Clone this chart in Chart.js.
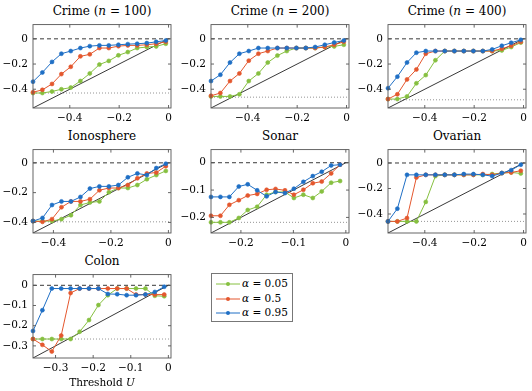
<!DOCTYPE html>
<html><head><meta charset="utf-8">
<script src="https://cdn.jsdelivr.net/npm/chart.js@4.4.1/dist/chart.umd.min.js"></script>
<style>
body{margin:0;background:#fff;width:532px;height:391px;position:relative;overflow:hidden;font-family:"DejaVu Serif",serif;font-weight:normal;color:#000;}
.cv{position:absolute;}
.title{position:absolute;font-size:12px;font-weight:normal;text-align:center;white-space:nowrap;height:16px;line-height:16px;}
#legend{position:absolute;left:211px;top:273px;width:80px;height:47px;border:1px solid #777;background:#fff;}
.lrow{position:absolute;left:4px;height:14px;line-height:14px;font-size:10.5px;white-space:nowrap;}
.lrow svg{vertical-align:middle;margin-right:2px;}
#xlabel{position:absolute;left:33px;width:138px;top:376px;text-align:center;font-size:10.5px;}
</style></head><body>
<script>
// ---- data ----
const xCrime = [-0.549,-0.511,-0.472,-0.434,-0.396,-0.357,-0.319,-0.280,-0.242,-0.203,-0.165,-0.127,-0.088,-0.050,-0.011];
const crime100Blue   = [-0.340,-0.267,-0.183,-0.118,-0.097,-0.073,-0.058,-0.052,-0.052,-0.047,-0.042,-0.039,-0.034,-0.024,-0.013];
const crime100Orange = [-0.424,-0.405,-0.358,-0.280,-0.222,-0.139,-0.123,-0.073,-0.073,-0.058,-0.052,-0.052,-0.047,-0.039,-0.024];
const crime100Green  = [-0.430,-0.430,-0.418,-0.400,-0.387,-0.335,-0.275,-0.204,-0.175,-0.131,-0.105,-0.073,-0.065,-0.060,-0.039];
const crime200Blue   = [-0.335,-0.285,-0.188,-0.118,-0.097,-0.073,-0.073,-0.073,-0.073,-0.073,-0.073,-0.065,-0.047,-0.029,-0.013];
const crime200Orange = [-0.452,-0.430,-0.335,-0.275,-0.173,-0.118,-0.097,-0.073,-0.073,-0.073,-0.073,-0.073,-0.065,-0.047,-0.024];
const crime200Green  = [-0.457,-0.457,-0.457,-0.440,-0.335,-0.275,-0.188,-0.133,-0.097,-0.073,-0.073,-0.073,-0.065,-0.060,-0.047];
const crime400Blue   = [-0.392,-0.300,-0.188,-0.110,-0.097,-0.097,-0.097,-0.097,-0.097,-0.097,-0.097,-0.084,-0.055,-0.031,-0.008];
const crime400Orange = [-0.478,-0.440,-0.322,-0.243,-0.118,-0.097,-0.097,-0.097,-0.097,-0.097,-0.097,-0.097,-0.078,-0.055,-0.024];
const crime400Green  = [-0.478,-0.478,-0.457,-0.353,-0.288,-0.170,-0.097,-0.097,-0.097,-0.097,-0.097,-0.097,-0.092,-0.065,-0.030];

const xIono = [-0.471,-0.438,-0.405,-0.372,-0.339,-0.306,-0.273,-0.240,-0.207,-0.174,-0.141,-0.108,-0.075,-0.042,-0.009];
const ionoBlue   = [-0.391,-0.370,-0.283,-0.259,-0.259,-0.229,-0.173,-0.158,-0.158,-0.149,-0.097,-0.071,-0.082,-0.035,-0.006];
const ionoOrange = [-0.391,-0.396,-0.378,-0.298,-0.259,-0.259,-0.244,-0.184,-0.169,-0.169,-0.149,-0.104,-0.071,-0.065,-0.022];
const ionoGreen  = [-0.391,-0.391,-0.391,-0.378,-0.352,-0.283,-0.266,-0.259,-0.197,-0.169,-0.169,-0.149,-0.110,-0.082,-0.054];

const xSonar = [-0.257,-0.239,-0.222,-0.204,-0.187,-0.169,-0.151,-0.134,-0.116,-0.099,-0.081,-0.063,-0.046,-0.028,-0.011];
const sonarBlue   = [-0.125,-0.125,-0.125,-0.087,-0.079,-0.101,-0.123,-0.107,-0.111,-0.095,-0.070,-0.049,-0.033,-0.010,-0.007];
const sonarOrange = [-0.194,-0.194,-0.154,-0.137,-0.120,-0.114,-0.099,-0.096,-0.101,-0.117,-0.099,-0.075,-0.069,-0.039,-0.007];
const sonarGreen  = [-0.218,-0.218,-0.218,-0.202,-0.173,-0.161,-0.117,-0.107,-0.107,-0.129,-0.117,-0.129,-0.105,-0.073,-0.067];

const xOvarian = [-0.549,-0.511,-0.472,-0.434,-0.396,-0.357,-0.319,-0.280,-0.242,-0.203,-0.165,-0.127,-0.088,-0.050,-0.011];
const ovarianBlue   = [-0.458,-0.358,-0.093,-0.093,-0.093,-0.093,-0.093,-0.093,-0.087,-0.087,-0.093,-0.103,-0.079,-0.056,-0.013];
const ovarianOrange = [-0.458,-0.458,-0.432,-0.114,-0.093,-0.093,-0.093,-0.093,-0.093,-0.093,-0.087,-0.093,-0.079,-0.074,-0.061];
const ovarianGreen  = [-0.458,-0.458,-0.458,-0.458,-0.305,-0.103,-0.093,-0.093,-0.093,-0.093,-0.093,-0.087,-0.079,-0.074,-0.082];

const xColon = [-0.360,-0.335,-0.310,-0.285,-0.260,-0.236,-0.211,-0.186,-0.161,-0.136,-0.111,-0.086,-0.061,-0.036,-0.011];
const colonBlue   = [-0.226,-0.123,-0.016,-0.016,-0.016,-0.016,-0.016,-0.016,-0.043,-0.044,-0.049,-0.049,-0.046,-0.033,-0.007];
const colonOrange = [-0.266,-0.295,-0.328,-0.249,-0.038,-0.016,-0.016,-0.016,-0.016,-0.016,-0.016,-0.046,-0.046,-0.046,-0.046];
const colonGreen  = [-0.266,-0.266,-0.266,-0.266,-0.266,-0.230,-0.172,-0.098,-0.049,-0.016,-0.016,-0.016,-0.016,-0.052,-0.054];

// baseline (dotted) levels
const baselines = {crime100:-0.430, crime200:-0.463, crime400:-0.484, iono:-0.396, sonar:-0.218, ovarian:-0.458, colon:-0.266};
// tick labels
const ticksA = [-0.4,-0.2,0];
const ticksSonar = [-0.2,-0.1,0];
const ticksColon = [-0.3,-0.2,-0.1,0];
const seriesNames = ['α = 0.05','α = 0.5','α = 0.95'];

// ---- styles ----
const C_BLUE='#1f6fc5', C_ORANGE='#e4572e', C_GREEN='#86c040';
const FONT='"DejaVu Serif", serif';

const panels = [
 {title:'Crime (<i>n</i> = 100)', left:33, top:24, min:-0.549, xmax:0.010, ymax:0.113, xt:ticksA, yt:ticksA, x:xCrime, b:crime100Blue, o:crime100Orange, g:crime100Green, base:baselines.crime100},
 {title:'Crime (<i>n</i> = 200)', left:211, top:24, min:-0.549, xmax:0.010, ymax:0.113, xt:ticksA, yt:ticksA, x:xCrime, b:crime200Blue, o:crime200Orange, g:crime200Green, base:baselines.crime200},
 {title:'Crime (<i>n</i> = 400)', left:388, top:24, min:-0.549, xmax:0.010, ymax:0.113, xt:ticksA, yt:ticksA, x:xCrime, b:crime400Blue, o:crime400Orange, g:crime400Green, base:baselines.crime400},
 {title:'Ionosphere', left:33, top:149, min:-0.471, xmax:0.009, ymax:0.089, xt:ticksA, yt:ticksA, x:xIono, b:ionoBlue, o:ionoOrange, g:ionoGreen, base:baselines.iono},
 {title:'Sonar', left:211, top:149, min:-0.257, xmax:0.006, ymax:0.048, xt:ticksSonar, yt:ticksSonar, x:xSonar, b:sonarBlue, o:sonarOrange, g:sonarGreen, base:baselines.sonar},
 {title:'Ovarian', left:388, top:149, min:-0.549, xmax:0.010, ymax:0.105, xt:ticksA, yt:ticksA, x:xOvarian, b:ovarianBlue, o:ovarianOrange, g:ovarianGreen, base:baselines.ovarian},
 {title:'Colon', left:33, top:274, min:-0.360, xmax:0.007, ymax:0.053, xt:ticksColon, yt:ticksColon, x:xColon, b:colonBlue, o:colonOrange, g:colonGreen, base:baselines.colon},
];

const PW=138, PH=84, PADL=33, PADT=4, PADR=6, PADB=20;

const fmt = v => (Math.abs(v)<1e-9 ? '0' : (v<0?'\u2212':'') + String(Math.abs(v)));

const framePlugin = {
  id:'frame',
  afterDraw(chart){
    const {ctx, chartArea:a, scales} = chart;
    ctx.save();
    ctx.strokeStyle='#555'; ctx.lineWidth=0.9;
    ctx.strokeRect(a.left, a.top, a.right-a.left, a.bottom-a.top);
    const tl=3;
    ctx.beginPath();
    scales.x.ticks.forEach(t=>{ const px=scales.x.getPixelForValue(t.value);
      ctx.moveTo(px,a.bottom); ctx.lineTo(px,a.bottom-tl); ctx.moveTo(px,a.top); ctx.lineTo(px,a.top+tl); });
    scales.y.ticks.forEach(t=>{ const py=scales.y.getPixelForValue(t.value);
      ctx.moveTo(a.left,py); ctx.lineTo(a.left+tl,py); ctx.moveTo(a.right,py); ctx.lineTo(a.right-tl,py); });
    ctx.stroke();
    ctx.restore();
  }
};

function series(label, xs, ys, color){
  return {label, data: xs.map((x,i)=>({x, y:ys[i]})), borderColor:color, backgroundColor:color,
    borderWidth:1, pointRadius:2, pointBorderWidth:0.6, pointBackgroundColor:color, pointBorderColor:color,
    tension:0, clip:false};
}
function refLine(pts, color, width, dash){
  return {data:pts, borderColor:color, borderWidth:width, borderDash:dash, pointRadius:0, tension:0, clip:0};
}

panels.forEach(p=>{
  const cv=document.createElement('canvas');
  const W=PADL+PW+PADR, H=PADT+PH+PADB;
  cv.width=W; cv.height=H; cv.className='cv';
  cv.style.left=(p.left-PADL)+'px'; cv.style.top=(p.top-PADT)+'px';
  cv.style.width=W+'px'; cv.style.height=H+'px';
  document.body.appendChild(cv);
  const t=document.createElement('div'); t.className='title'; t.innerHTML=p.title;
  t.style.left=p.left+'px'; t.style.width=PW+'px'; t.style.top=(p.top-21)+'px';
  document.body.appendChild(t);

  new Chart(cv, {
    type:'line',
    data:{datasets:[
      series(seriesNames[2], p.x, p.b, C_BLUE),
      series(seriesNames[1], p.x, p.o, C_ORANGE),
      series(seriesNames[0], p.x, p.g, C_GREEN),
      refLine([{x:p.min,y:p.min},{x:0,y:0}], '#222', 0.9, []),
      refLine([{x:p.min,y:0},{x:p.xmax,y:0}], '#222', 0.9, [4,3]),
      refLine([{x:p.min,y:p.base},{x:p.xmax,y:p.base}], '#888', 0.9, [1,2]),
    ]},
    options:{
      responsive:false, animation:false, devicePixelRatio:1,
      layout:{padding:{left:0,top:PADT,right:PADR,bottom:0}},
      plugins:{legend:{display:false}, tooltip:{enabled:false}, title:{display:false}},
      scales:{
        x:{type:'linear', min:p.min, max:p.xmax,
          grid:{display:false, drawTicks:false}, border:{display:false},
          afterBuildTicks:s=>{s.ticks=p.xt.map(v=>({value:v}));},
          afterFit:s=>{s.height=PADB; s.paddingLeft=0; s.paddingRight=0;},
          ticks:{autoSkip:false, maxRotation:0, padding:4, color:'#000', font:{family:FONT,size:10.5,weight:'normal'}, callback:fmt}},
        y:{type:'linear', min:p.min, max:p.ymax,
          grid:{display:false, drawTicks:false}, border:{display:false},
          afterBuildTicks:s=>{s.ticks=p.yt.map(v=>({value:v}));},
          afterFit:s=>{s.width=PADL; s.paddingTop=0; s.paddingBottom=0;},
          ticks:{autoSkip:false, padding:5, color:'#000', font:{family:FONT,size:10.5,weight:'normal'}, callback:fmt}}
      }
    },
    plugins:[framePlugin]
  });
});

// legend (HTML)
const lg=document.createElement('div'); lg.id='legend';
[[C_GREEN,seriesNames[0]],[C_ORANGE,seriesNames[1]],[C_BLUE,seriesNames[2]]].forEach((e,i)=>{
  const r=document.createElement('div'); r.className='lrow'; r.style.top=(2+i*14.5)+'px';
  const txt=e[1].replace('α','<i>α</i>');
  r.innerHTML='<svg width="24" height="8"><line x1="0" y1="4" x2="24" y2="4" stroke="'+e[0]+'" stroke-width="1"/><circle cx="12" cy="4" r="2" fill="'+e[0]+'"/></svg>'+txt;
  lg.appendChild(r);
});
document.body.appendChild(lg);
const xl=document.createElement('div'); xl.id='xlabel'; xl.innerHTML='Threshold <i>U</i>';
document.body.appendChild(xl);
</script>
</body></html>
